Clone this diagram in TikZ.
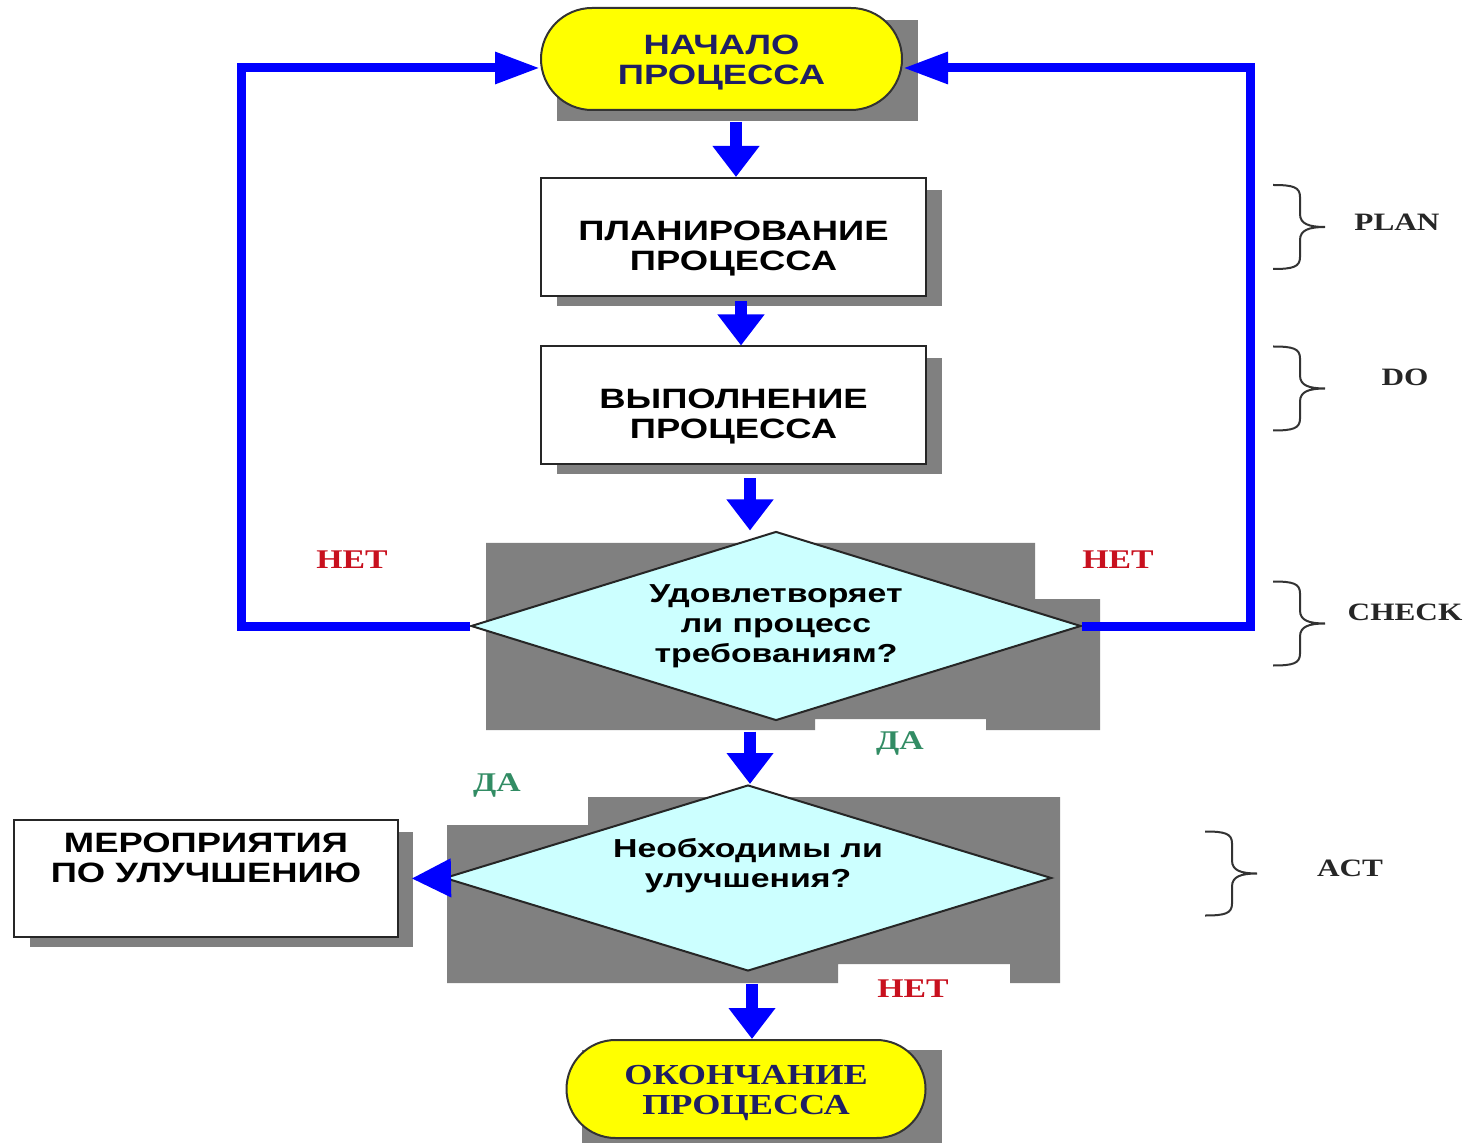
\documentclass[tikz,border=0pt]{standalone}
\usepackage{fontspec}
\usetikzlibrary{shapes.geometric,shapes.misc,arrows.meta}
\newfontfamily\boxfont[FakeStretch=1.3]{Liberation Sans}
\newfontfamily\tagfont[FakeStretch=1.25]{Liberation Serif}
\definecolor{flowblue}{RGB}{0,0,255}
\definecolor{shade}{RGB}{128,128,128}
\definecolor{startfill}{RGB}{255,255,0}
\definecolor{askfill}{RGB}{204,255,255}
\definecolor{navytext}{RGB}{30,30,100}
\definecolor{notext}{RGB}{200,16,30}
\definecolor{yestext}{RGB}{50,140,100}
\newcommand{\Lowfirst}[1]{\rule{0pt}{#1}}
\tikzstyle{startstop}=[rounded rectangle, draw=black!80, line width=1pt, fill=startfill, text=navytext, align=center, inner sep=0pt]
\tikzstyle{stepbox}=[rectangle, draw=black!85, line width=1pt, fill=white, align=center, font=\boxfont\bfseries\fontsize{14}{15}\selectfont, minimum width=192.5pt, minimum height=59pt, inner sep=0pt]
\tikzstyle{question}=[diamond, draw=black!85, line width=1pt, fill=askfill, align=center, inner sep=0pt, aspect=3.2, font=\boxfont\bfseries\fontsize{13}{15}\selectfont]
\tikzstyle{shadebox}=[fill=shade]
\tikzstyle{flowarrow}=[-{Triangle[width=22.5pt,length=15.5pt]}, line width=6pt, color=flowblue]
\tikzstyle{backarrow}=[-{Triangle[width=15pt,length=22.5pt]}, line width=4.5pt, color=flowblue]
\tikzstyle{sidearrow}=[-{Triangle[width=18pt,length=20pt]}, line width=6pt, color=flowblue]
\tikzstyle{notag}=[font=\tagfont\bfseries\fontsize{13.5}{15}\selectfont, text=notext]
\tikzstyle{yestag}=[font=\tagfont\bfseries\fontsize{13.5}{15}\selectfont, text=yestext]
\tikzstyle{phasetag}=[font=\tagfont\bfseries\fontsize{12.5}{14}\selectfont, text=black!85]
\tikzset{pics/phasebrace/.style={code={
  \draw[line width=1pt, black!80] (0,-42) .. controls (20,-42) and (27,-40) .. (27,-30) -- (27,-13)
    .. controls (27,-3) and (36,0) .. (52,0) .. controls (36,0) and (27,3) .. (27,13)
    -- (27,30) .. controls (27,40) and (20,42) .. (0,42);
}}}

\begin{document}
\begin{tikzpicture}[x=0.5pt,y=-0.5pt]
  \useasboundingbox (0,0) rectangle (1470,1143);

  %% Shadows
  \fill[shadebox] (557,20) rectangle (918,121);
  \fill[shadebox] (557,190) rectangle (942,306);
  \fill[shadebox] (557,358) rectangle (942,474);
  \fill[shadebox] (486,543) -- (1035,543) -- (1035,599) -- (1100,599) -- (1100,730) -- (986,730) -- (986,719) -- (815,719) -- (815,730) -- (486,730) -- cycle;
  \fill[shadebox] (588,797) -- (1060,797) -- (1060,983) -- (1010,983) -- (1010,964) -- (838,964) -- (838,983) -- (447,983) -- (447,825) -- (588,825) -- cycle;
  \fill[shadebox] (30,832) rectangle (413,947);
  \fill[shadebox] (582,1050) rectangle (942,1143);

  %% Steps
  \draw (721.5,59) node[startstop, minimum width=180.5pt, minimum height=51pt, font=\boxfont\bfseries\fontsize{14}{15}\selectfont] (start) {\Lowfirst{13.5pt}НАЧАЛО\\ПРОЦЕССА};
  \draw (733.5,237) node[stepbox] (plan) {\Lowfirst{21pt}ПЛАНИРОВАНИЕ\\ПРОЦЕССА};
  \draw (733.5,405.5) node[stepbox] (do) {\Lowfirst{21pt}ВЫПОЛНЕНИЕ\\ПРОЦЕССА};
  \draw (776,626) node[question, minimum width=305pt, minimum height=94.5pt] (check) {Удовлетворяет\\ли процесс\\требованиям?};
  \draw (748,878) node[question, minimum width=303.5pt, minimum height=93pt] (act) {Необходимы ли\\улучшения?\\~};
  \draw (206,878.5) node[stepbox, minimum width=192pt, minimum height=58.5pt] (improve) {МЕРОПРИЯТИЯ\\ПО УЛУЧШЕНИЮ\\[6pt]~};
  \draw (746,1089) node[startstop, minimum width=179.5pt, minimum height=49pt, font=\tagfont\bfseries\fontsize{14.5}{15}\selectfont] (stop) {\Lowfirst{13.5pt}ОКОНЧАНИЕ\\ПРОЦЕССА};

  %% Flow
  \draw[flowarrow] ([xshift=7.25pt,yshift=-5.5pt]start.south) -- ([xshift=1.25pt]plan.north);
  \draw[flowarrow] ([xshift=3.75pt,yshift=-2pt]plan.south) -- ([xshift=3.75pt]do.north);
  \draw[flowarrow] ([xshift=8.25pt,yshift=-6.5pt]do.south) -- ([xshift=-13pt]check.north);
  \draw[flowarrow] ([xshift=-13pt,yshift=-5pt]check.south) -- ([xshift=1pt]act.north);
  \draw[flowarrow] ([xshift=2pt,yshift=-6pt]act.south) -- ([xshift=3pt]stop.north);
  \draw[sidearrow] (act.west) -- ([xshift=6pt]improve.east);

  %% Back to start
  \coordinate (leftturn) at (241,68);
  \coordinate (rightturn) at (1250,68);
  \draw[backarrow] (check.west) -| (leftturn) -- ([yshift=-4.5pt]start.west);
  \draw[backarrow] (check.east) -| (rightturn) -- ([yshift=-4.5pt]start.east);

  %% Answers
  \draw (352,560) node[notag] (noleft) {НЕТ};
  \draw (1118,560) node[notag] (noright) {НЕТ};
  \draw (900,743) node[yestag] (yesdown) {ДА};
  \draw (497,785) node[yestag] (yesleft) {ДА};
  \draw (913,989) node[notag] (nodown) {НЕТ};

  %% PDCA
  \pic at (1273,227) {phasebrace};
  \pic at (1273,388.5) {phasebrace};
  \pic at (1273,623.5) {phasebrace};
  \pic at (1205,873.5) {phasebrace};
  \draw (1397,222) node[phasetag] (plantag) {PLAN};
  \draw (1405,377) node[phasetag] (dotag) {DO};
  \draw (1405,612) node[phasetag] (checktag) {CHECK};
  \draw (1350,868) node[phasetag] (acttag) {ACT};
\end{tikzpicture}
\end{document}
